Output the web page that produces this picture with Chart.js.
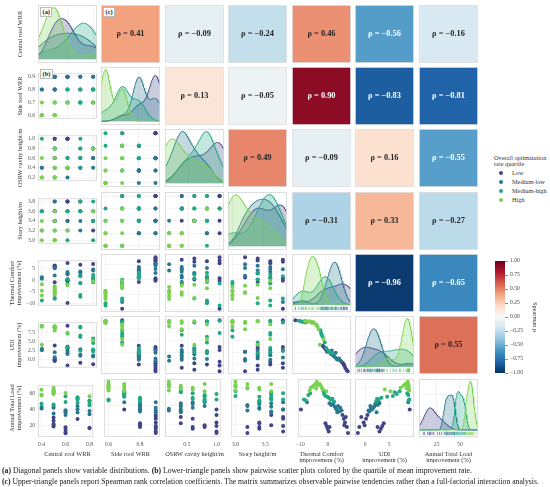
<!DOCTYPE html>
<html>
<head>
<meta charset="utf-8">
<script src="https://cdn.jsdelivr.net/npm/chart.js@4.4.1/dist/chart.umd.min.js"></script>
<style>
  html, body { margin: 0; padding: 0; background: #fff; }
  #fig { position: relative; width: 550px; height: 487px; overflow: hidden;
         font-family: "Liberation Serif", "Times New Roman", serif; color: #333; }
  #fig canvas { position: absolute; }
  .txt { position: absolute; white-space: nowrap; }
  .ytitle { position: absolute; white-space: nowrap; text-align: center; font-size: 6.3px; line-height: 6.8px;
            transform: translate(-50%, -50%) rotate(-90deg); color: #333; }
  .xtitle { position: absolute; white-space: nowrap; text-align: center; font-size: 6.3px; line-height: 6.6px;
            transform: translateX(-50%); color: #333; }
  .tag { position: absolute; font-size: 6.4px; font-weight: bold; background: #fff; border: 0.6px solid #bbb;
         padding: 0 1.5px; line-height: 7.5px; color: #222; }
  .cap { position: absolute; left: 2px; white-space: nowrap; font-size: 7.7px; color: #1a1a1a; }
</style>
</head>
<body>
<div id="fig"></div>
<script>
const SERIF = '"Liberation Serif", "Times New Roman", serif';

// quartile groups of overall optimization rate
const GROUPS = ['Low', 'Medium-low', 'Medium-high', 'High'];
const GROUP_COLORS = ['#414487', '#2a788e', '#22a884', '#7ad151'];

// samples, ordered Low(13), Medium-low(13), Medium-high(13), High(13)
const centralWRR = [
  0.6, 0.5, 0.6, 0.6, 0.6, 0.8, 0.5, 0.5, 0.5, 0.7, 0.8, 0.6, 0.5,
  0.4, 0.4, 0.5, 0.6, 0.6, 0.7, 0.7, 0.8, 0.8, 0.5, 0.6, 0.7, 0.5,
  0.4, 0.5, 0.7, 0.7, 0.7, 0.8, 0.7, 0.8, 0.6, 0.8, 0.7, 0.6, 0.8,
  0.5, 0.4, 0.5, 0.5, 0.5, 0.5, 0.5, 0.4, 0.5, 0.5, 0.6, 0.4, 0.8];
const sideWRR = [
  0.7, 0.8, 0.9, 0.9, 0.9, 0.8, 0.9, 0.9, 0.9, 0.9, 0.9, 0.9, 0.8,
  0.8, 0.8, 0.8, 0.8, 0.8, 0.8, 0.8, 0.8, 0.9, 0.9, 0.9, 0.9, 0.7,
  0.6, 0.6, 0.7, 0.7, 0.7, 0.7, 0.7, 0.7, 0.8, 0.8, 0.8, 0.7, 0.8,
  0.6, 0.6, 0.6, 0.6, 0.6, 0.6, 0.6, 0.6, 0.7, 0.7, 0.7, 0.7, 0.7];
const cavityHeight = [
  1.0, 0.4, 1.0, 0.6, 1.0, 0.8, 1.0, 0.6, 1.0, 0.4, 0.6, 1.0, 0.8,
  0.4, 0.4, 0.6, 0.4, 0.2, 0.4, 0.8, 0.4, 0.6, 0.2, 0.4, 0.6, 0.8,
  1.0, 0.8, 0.8, 0.6, 1.0, 0.8, 0.4, 0.8, 0.6, 0.8, 0.6, 0.4, 0.8,
  0.2, 0.2, 0.4, 0.2, 0.6, 0.2, 0.4, 0.2, 0.8, 0.2, 0.4, 0.6, 0.8];
const storyHeight = [
  3.8, 3.4, 3.8, 3.4, 3.8, 3.2, 3.6, 3.8, 3.4, 3.8, 3.4, 3.2, 3.6,
  3.6, 3.2, 3.4, 3.6, 3.4, 3.8, 3.2, 3.6, 3.4, 3.2, 3.6, 3.4, 3.8,
  3.6, 3.4, 3.6, 3.8, 3.6, 3.0, 3.6, 3.4, 3.6, 3.8, 3.6, 3.0, 3.4,
  3.0, 3.2, 3.0, 3.0, 3.4, 3.0, 3.2, 3.0, 3.6, 3.0, 3.2, 3.4, 3.6];
const thermalImp = [
  -9.8, -0.9, -0.5, -0.1, 0.3, 0.6, 5.3, 5.8, 6.2, 6.5, 6.9, 7.3, 6.0,
  0.6, 1.2, 1.9, 2.5, 2.9, 3.3, 3.7, 4.1, 4.5, 5.0, 3.4, 2.1, -7.6,
  -8.7, -8.0, -7.1, -6.4, -1.4, -0.9, -1.2, -0.2, 0.3, 1.0, 1.6, -1.6, 2.2,
  -4.0, -4.6, -5.2, -5.6, -6.2, -3.8, -4.3, -6.6, -3.0, -2.6, -2.2, -1.8, -0.6];
const udiImp = [
  9.3, 3.9, 3.6, 3.3, 3.0, 2.6, 0.5, 0.2, -0.3, -0.8, -1.2, -1.5, -0.1,
  3.0, 2.6, 2.1, 1.9, 1.6, 1.4, 1.1, 0.9, 1.2, 0.7, 2.4, 2.9, 9.0,
  9.2, 9.1, 9.0, 8.8, 6.6, 5.8, 6.2, 4.6, 3.4, 2.8, 2.5, 7.2, 2.3,
  8.9, 9.0, 9.1, 9.0, 9.1, 8.8, 8.7, 9.2, 8.4, 8.0, 7.4, 4.1, 5.3];
const loadImp = [
  36, 21, 18, 15, 12, 17, 30, 26, 22, 28, 17, 10.5, 19,
  43, 41, 42, 39, 37, 36, 40, 34, 38, 35, 33, 44, 44,
  47, 46, 52, 54, 53, 51, 55, 50, 49, 47, 48, 56, 45,
  66.5, 64, 62, 61, 60, 63, 59, 57, 64, 62, 60, 58, 56];
const quartile = [
  0, 0, 0, 0, 0, 0, 0, 0, 0, 0, 0, 0, 0,
  1, 1, 1, 1, 1, 1, 1, 1, 1, 1, 1, 1, 1,
  2, 2, 2, 2, 2, 2, 2, 2, 2, 2, 2, 2, 2,
  3, 3, 3, 3, 3, 3, 3, 3, 3, 3, 3, 3, 3];

const VARS = [centralWRR, sideWRR, cavityHeight, storyHeight, thermalImp, udiImp, loadImp];
const VAR_TITLES = [
  ['Central roof WRR'], ['Side roof WRR'], ['OSRW cavity height/m'], ['Story height/m'],
  ['Thermal Comfort', 'improvement (%)'], ['UDI', 'improvement (%)'], ['Annual Total Load', 'improvement (%)']];

// axis limits and tick labels
const AX_MIN = [0.37, 0.573, 0.135, 2.93, -10.9, -2.1, 6];
const AX_MAX = [0.83, 0.927, 1.07, 3.865, 8.4, 10.2, 69.5];
const X_TICKS = [['0.4', '0.6', '0.8'], ['0.6', '0.8'], ['0.5', '1.0'], ['3.0', '3.5'],
                 ['−10', '0'], ['0', '5'], ['25', '50']];
const Y_TICKS = [['0.4', '0.6', '0.8'], ['0.6', '0.7', '0.8', '0.9'], ['0.2', '0.4', '0.6', '0.8', '1.0'],
                 ['3.0', '3.2', '3.4', '3.6', '3.8'], ['−10', '−5', '0', '5'], ['0.0', '2.5', '5.0', '7.5'],
                 ['20', '40', '60']];

// Spearman rho, upper triangle row by row
const SPEARMAN = [
  0.41, -0.09, -0.24, 0.46, -0.56, -0.16,
  0.13, -0.05, 0.90, -0.83, -0.81,
  0.49, -0.09, 0.16, -0.55,
  -0.31, 0.33, -0.27,
  -0.96, -0.65,
  0.55];
const CBAR_TICKS = [1, 0.75, 0.5, 0.25, 0, -0.25, -0.5, -0.75, -1];

// layout of the grid
const COL_X = [38, 101, 165, 228, 292, 355, 419];
const ROW_Y = [5, 67, 129, 192, 254, 316, 379];
const PW = 59, PH = 58;

const RDBU = ['#053061', '#2166ac', '#4393c3', '#92c5de', '#d1e5f0', '#f7f7f7',
              '#fddbc7', '#f4a582', '#d6604d', '#b2182b', '#67001f'];

Chart.defaults.animation = false;
Chart.defaults.events = [];
Chart.defaults.font.family = SERIF;
Chart.defaults.plugins.legend.display = false;
Chart.defaults.plugins.tooltip.enabled = false;

const fig = document.getElementById('fig');
const num = s => parseFloat(s.replace('−', '-'));

function hexRgb(h) {
  return [1, 3, 5].map(i => parseInt(h.slice(i, i + 2), 16));
}
function rgba(h, a) {
  const [r, g, b] = hexRgb(h);
  return `rgba(${r},${g},${b},${a})`;
}
function rdbu(v) {
  const t = (Math.max(-1, Math.min(1, v)) + 1) / 0.2;
  const i = Math.min(9, Math.floor(t)), f = t - i;
  const a = hexRgb(RDBU[i]), b = hexRgb(RDBU[i + 1]);
  const c = a.map((x, k) => Math.round(x + (b[k] - x) * f));
  return `rgb(${c[0]},${c[1]},${c[2]})`;
}

function addCanvas(left, top, w, h) {
  const cv = document.createElement('canvas');
  cv.width = w; cv.height = h;
  cv.style.left = left + 'px';
  cv.style.top = top + 'px';
  fig.appendChild(cv);
  return cv.getContext('2d');
}
function addDiv(cls, html, style) {
  const d = document.createElement('div');
  d.className = cls;
  d.innerHTML = html;
  Object.assign(d.style, style);
  fig.appendChild(d);
  return d;
}

const framePlugin = {
  id: 'frame',
  afterDraw(chart) {
    const a = chart.chartArea, ctx = chart.ctx;
    ctx.save();
    ctx.strokeStyle = chart.options.plugins.frame.color || '#d6d6d6';
    ctx.lineWidth = 0.8;
    ctx.strokeRect(a.left + 0.4, a.top + 0.4, a.right - a.left - 0.8, a.bottom - a.top - 0.8);
    ctx.restore();
  }
};

const rhoPlugin = {
  id: 'rho',
  afterDatasetsDraw(chart) {
    const o = chart.options.plugins.rho, a = chart.chartArea, ctx = chart.ctx;
    ctx.save();
    ctx.font = `bold 8.4px ${SERIF}`;
    ctx.fillStyle = o.color;
    ctx.textAlign = 'center';
    ctx.textBaseline = 'middle';
    ctx.fillText(o.text, (a.left + a.right) / 2, (a.top + a.bottom) / 2);
    ctx.restore();
  }
};

function scaleOpts(min, max, ticks, showLabels, fit, isX) {
  return {
    type: 'linear', min, max,
    afterBuildTicks: s => { s.ticks = ticks.map(t => ({ value: num(t) })); },
    afterFit: s => { if (isX) s.height = fit; else s.width = fit; },
    ticks: {
      display: showLabels, autoSkip: false, maxRotation: 0,
      font: { size: 5.6 }, color: '#555', padding: isX ? 4 : 3,
      callback: (v, i) => ticks[i]
    },
    grid: { color: '#ececec', lineWidth: 0.6, drawTicks: false },
    border: { display: false }
  };
}

function panelBox(r, c) {
  const lp = c === 0 ? 16 : 0, bp = r === 6 ? 14 : 0;
  return { ctx: addCanvas(COL_X[c] - lp, ROW_Y[r], PW + lp, PH + bp), lp, bp };
}

function scatterPanel(r, c) {
  const { ctx, lp, bp } = panelBox(r, c);
  const datasets = GROUPS.map((name, g) => ({
    label: name,
    data: VARS[c].map((v, i) => ({ x: v, y: VARS[r][i], g: quartile[i] })).filter(p => p.g === g),
    backgroundColor: GROUP_COLORS[g],
    pointRadius: 2,
    borderWidth: 0,
    order: 3 - g
  }));
  new Chart(ctx, {
    type: 'scatter',
    data: { datasets },
    options: {
      responsive: false,
      layout: { padding: 0, autoPadding: false },
      scales: {
        x: scaleOpts(AX_MIN[c], AX_MAX[c], X_TICKS[c], r === 6, bp, true),
        y: scaleOpts(AX_MIN[r], AX_MAX[r], Y_TICKS[r], c === 0, lp, false)
      },
      plugins: { frame: {} }
    },
    plugins: [framePlugin]
  });
}

function kde(vals, xs, nTotal) {
  const n = vals.length;
  const mean = vals.reduce((a, b) => a + b, 0) / n;
  const sd = Math.sqrt(vals.reduce((a, b) => a + (b - mean) ** 2, 0) / (n - 1));
  const bw = Math.max(sd, 1e-6) * Math.pow(n, -0.2);
  const k = 1 / (n * bw * Math.sqrt(2 * Math.PI));
  return xs.map(x => (n / nTotal) * k * vals.reduce((s, v) => s + Math.exp(-0.5 * ((x - v) / bw) ** 2), 0));
}

function diagPanel(k) {
  const { ctx, lp, bp } = panelBox(k, k);
  const vals = VARS[k];
  const xs = [];
  for (let i = 0; i <= 160; i++) xs.push(AX_MIN[k] + (AX_MAX[k] - AX_MIN[k]) * i / 160);
  const dens = GROUPS.map((_, g) => kde(vals.filter((v, i) => quartile[i] === g), xs, vals.length));
  const top = Math.max(...dens.flat()) * 1.05;
  const rug = k >= 4;
  const bottom = rug ? -0.14 * top : -0.07 * top;
  const datasets = [];
  GROUPS.forEach((name, g) => {
    datasets.push({
      data: xs.map((x, i) => ({ x, y: dens[g][i] })),
      showLine: true, fill: 'origin', pointRadius: 0,
      borderColor: GROUP_COLORS[g], borderWidth: 0.9,
      backgroundColor: rgba(GROUP_COLORS[g], 0.27),
      order: 3 - g + 4
    });
    if (rug) {
      datasets.push({
        data: vals.map((v, i) => ({ x: v, y: bottom * 0.5, g: quartile[i] })).filter(p => p.g === g),
        pointStyle: 'line', rotation: 90, pointRadius: 1.7,
        borderColor: GROUP_COLORS[g], borderWidth: 0.6,
        order: 3 - g
      });
    }
  });
  new Chart(ctx, {
    type: 'scatter',
    data: { datasets },
    options: {
      responsive: false,
      layout: { padding: 0, autoPadding: false },
      scales: {
        x: scaleOpts(AX_MIN[k], AX_MAX[k], X_TICKS[k], k === 6, bp, true),
        y: {
          min: bottom, max: top,
          afterFit: s => { s.width = lp; },
          ticks: { display: false, maxTicksLimit: 4 },
          grid: { color: '#ececec', lineWidth: 0.6, drawTicks: false },
          border: { display: false }
        }
      },
      plugins: { frame: {} }
    },
    plugins: [framePlugin]
  });
}

function corrPanel(r, c, rho) {
  const ctx = addCanvas(COL_X[c], ROW_Y[r], PW, PH);
  const txt = 'ρ = ' + (rho < 0 ? '−' : '') + Math.abs(rho).toFixed(2);
  new Chart(ctx, {
    type: 'bar',
    data: { labels: ['ρ'], datasets: [{ data: [1], backgroundColor: rdbu(rho), borderWidth: 0,
                                         barPercentage: 1, categoryPercentage: 1 }] },
    options: {
      responsive: false,
      layout: { padding: 0 },
      scales: { x: { display: false }, y: { display: false, min: 0, max: 1 } },
      plugins: { frame: { color: '#e2e2e2' },
                 rho: { text: txt, color: (rho < -0.5 || rho > 0.7) ? '#ffffff' : '#262626' } }
    },
    plugins: [rhoPlugin, framePlugin]
  });
}

// build the matrix
let ri = 0;
for (let r = 0; r < 7; r++) {
  for (let c = 0; c < 7; c++) {
    if (r === c) diagPanel(r);
    else if (r > c) scatterPanel(r, c);
    else corrPanel(r, c, SPEARMAN[ri++]);
  }
}

// axis titles
VAR_TITLES.forEach((lines, k) => {
  addDiv('ytitle', lines.join('<br>'), { left: (lines.length > 1 ? 16 : 19.5) + 'px', top: (ROW_Y[k] + PH / 2) + 'px' });
  addDiv('xtitle', lines.join('<br>'), { left: (COL_X[k] + PW / 2) + 'px', top: '450.5px' });
});

// panel tags
addDiv('tag', '(a)', { left: '40px', top: '7px' });
addDiv('tag', '(c)', { left: '103px', top: '7px' });
addDiv('tag', '(b)', { left: '40px', top: '69px' });

// hue legend
addDiv('txt', 'Overall optimization<br>rate quartile', { left: '494px', top: '155px', fontSize: '6.3px', lineHeight: '6.3px' });
GROUPS.forEach((name, g) => {
  const y = 173 + g * 9;
  addDiv('txt', '', { left: '499px', top: (y - 2) + 'px', width: '4px', height: '4px', borderRadius: '50%', background: GROUP_COLORS[g] });
  addDiv('txt', name, { left: '512px', top: (y - 4) + 'px', fontSize: '6.3px', lineHeight: '8px' });
});

// colour bar
(function () {
  const ctx = addCanvas(495, 255, 47, 124);
  new Chart(ctx, {
    type: 'bar',
    data: {
      labels: ['ρ'],
      datasets: [{
        data: [[-1, 1]], borderWidth: 0, barPercentage: 1, categoryPercentage: 1,
        backgroundColor: (c) => {
          const a = c.chart.chartArea;
          if (!a) return '#ccc';
          const g = c.chart.ctx.createLinearGradient(0, a.bottom, 0, a.top);
          RDBU.forEach((col, i) => g.addColorStop(i / 10, col));
          return g;
        }
      }]
    },
    options: {
      responsive: false,
      layout: { padding: { top: 6, bottom: 6, left: 0, right: 0 } },
      scales: {
        x: { display: false },
        y: {
          position: 'right', min: -1, max: 1,
          afterBuildTicks: s => { s.ticks = CBAR_TICKS.map(v => ({ value: v })); },
          afterFit: s => { s.width = 37; },
          ticks: { font: { size: 5.6 }, color: '#444', padding: 2,
                   callback: v => (v < 0 ? '−' : '') + Math.abs(v).toFixed(2) },
          grid: { drawOnChartArea: false, drawTicks: true, tickLength: 3, color: '#444', lineWidth: 0.6 },
          border: { display: false },
          title: { display: true, text: 'Spearman ρ', font: { size: 6.3 }, color: '#333', padding: 4 }
        }
      }
    }
  });
})();

// caption
addDiv('cap', '<b>(a)</b> Diagonal panels show variable distributions. <b>(b)</b> Lower-triangle panels show pairwise scatter plots colored by the quartile of mean improvement rate.', { top: '466px' });
addDiv('cap', '<b>(c)</b> Upper-triangle panels report Spearman rank correlation coefficients. The matrix summarizes observable pairwise tendencies rather than a full-factorial interaction analysis.', { top: '476.5px' });
</script>
</body>
</html>
